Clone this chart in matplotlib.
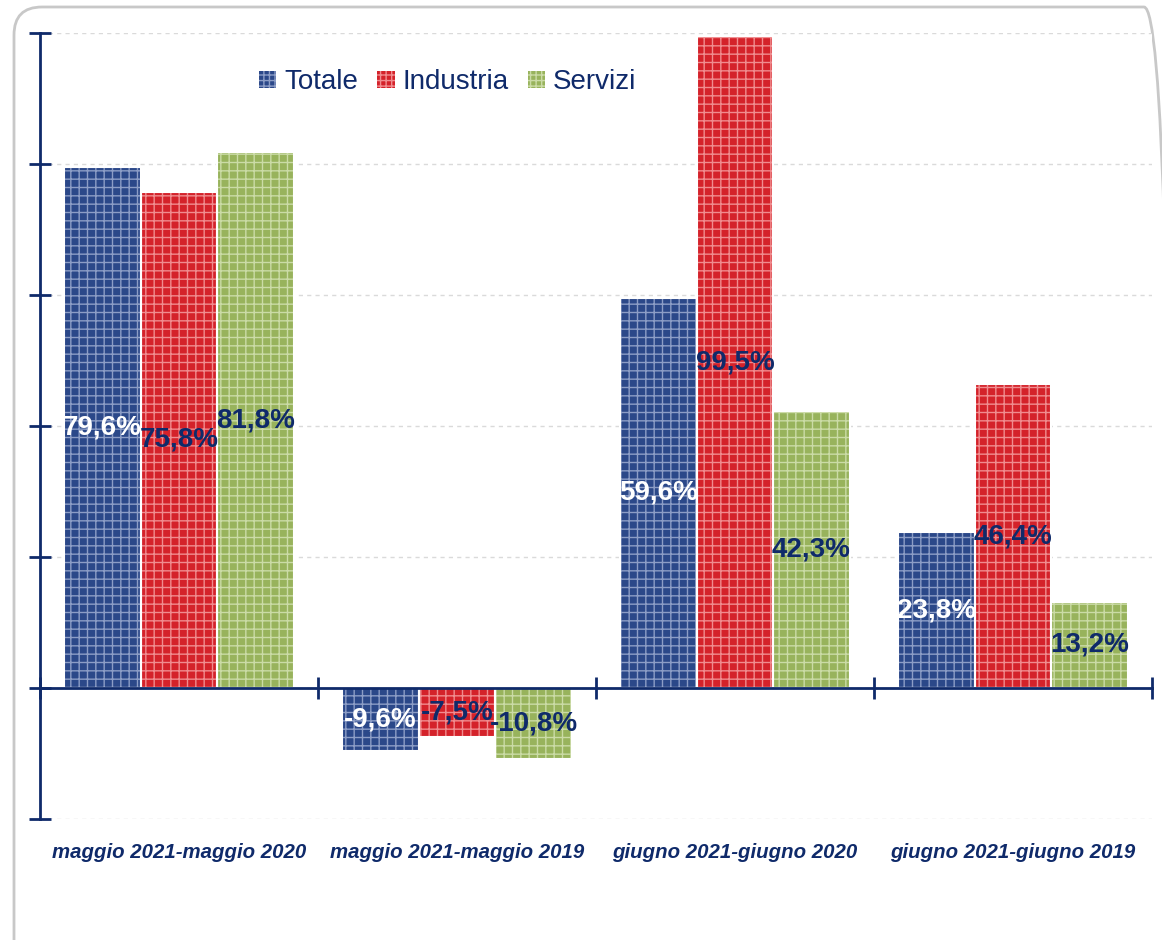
import matplotlib
matplotlib.use("Agg")
import matplotlib.pyplot as plt
import numpy as np
from matplotlib.patches import FancyBboxPatch, Patch, Rectangle
from matplotlib.legend_handler import HandlerPatch

categories = ["maggio 2021-maggio 2020", "maggio 2021-maggio 2019",
              "giugno 2021-giugno 2020", "giugno 2021-giugno 2019"]
series_names = ["Totale", "Industria", "Servizi"]
totale = [79.6, -9.6, 59.6, 23.8]
industria = [75.8, -7.5, 99.5, 46.4]
servizi = [81.8, -10.8, 42.3, 13.2]
series_values = [totale, industria, servizi]

base_colors = ["#2B4889", "#D4222A", "#98B35C"]
hatch_colors = ["#8C9DC6", "#F08C8F", "#CBDBA6"]
label_colors = ["white", "#0F2A6A", "#0F2A6A"]
navy = "#0F2A6A"

plt.rcParams["hatch.linewidth"] = 1.0

fig = plt.figure(figsize=(11.62, 9.40), dpi=100)
ax = fig.add_axes([40/1162, 1-819/940, (1152-40)/1162, (819-33)/940])

# rounded frame
frame = FancyBboxPatch((0.14, -0.5), 11.58, 9.83,
                       boxstyle="round,pad=0,rounding_size=0.28",
                       transform=fig.dpi_scale_trans, facecolor="none",
                       edgecolor="#C8C8C8", linewidth=2.0, zorder=-10)
fig.patches.append(frame)

x = np.arange(len(categories))
offset = 0.275
width = 0.275

label_font = dict(family=["Liberation Sans", "DejaVu Sans"], weight="bold", size=20)

for i, (name, vals) in enumerate(zip(series_names, series_values)):
    pos = x + (i - 1) * offset
    ax.bar(pos, vals, width, color=base_colors[i], linewidth=0, zorder=2)
    ax.bar(pos, vals, width, facecolor="none", edgecolor=hatch_colors[i],
           hatch="++", linewidth=0, zorder=3)
    ax.bar(pos, vals, width, facecolor="none", edgecolor="white",
           linewidth=1.5, zorder=4)
    for p, v in zip(pos, vals):
        txt = f"{v:.1f}%".replace(".", ",")
        ax.text(p, v / 2, txt, ha="center", va="center", color=label_colors[i],
                zorder=6, **label_font)

ax.set_xlim(-0.5, 3.5)
ax.set_ylim(-20, 100)

for s in ["top", "right"]:
    ax.spines[s].set_visible(False)
ax.spines["left"].set_color(navy)
ax.spines["left"].set_linewidth(2)
ax.spines["bottom"].set_color(navy)
ax.spines["bottom"].set_linewidth(2)
ax.spines["bottom"].set_position(("data", 0))
ax.spines["bottom"].set_zorder(5)

ax.set_yticks(np.arange(-20, 101, 20))
ax.set_yticklabels([])
ax.tick_params(axis="y", direction="inout", length=16, width=2, color=navy)
ax.set_xticks([])
ax.set_xticks(np.arange(-0.5, 3.6, 1.0), minor=True)
ax.tick_params(axis="x", which="minor", direction="inout", length=16, width=2, color=navy)
ax.yaxis.grid(True, color="#DADADA", linestyle=(0, (3, 3)), linewidth=1)
ax.set_axisbelow(True)

for xi, c in zip(x, categories):
    ax.text(xi, -0.043, c, transform=ax.get_xaxis_transform(), ha="center", va="center",
            color=navy, fontsize=14.7, fontweight="bold", fontstyle="italic",
            family=["Liberation Sans", "DejaVu Sans"])

class HatchHandler(HandlerPatch):
    def create_artists(self, legend, orig_handle, xdescent, ydescent, width, height, fontsize, trans):
        size = 12.5
        x0 = (width - size) / 2 - xdescent
        y0 = (height - size) / 2 - ydescent
        r1 = Rectangle((x0, y0), size, size, facecolor=orig_handle.get_facecolor(),
                       linewidth=0, transform=trans)
        r2 = Rectangle((x0, y0), size, size, facecolor="none",
                       edgecolor=orig_handle.get_edgecolor(), hatch="+++", linewidth=0, transform=trans)
        return [r1, r2]

handles = [Patch(facecolor=base_colors[i], edgecolor=hatch_colors[i]) for i in range(3)]
leg = ax.legend(handles, series_names, loc="center", bbox_to_anchor=(448/1162, 1-82/940),
                bbox_transform=fig.transFigure, ncol=3, frameon=False,
                handler_map={Patch: HatchHandler()},
                prop=dict(family=["Liberation Sans", "DejaVu Sans"], size=20),
                handlelength=0.6, handleheight=0.6, handletextpad=0.3, columnspacing=0.7)
for t in leg.get_texts():
    t.set_color(navy)

fig.savefig("out.png", dpi=100)
